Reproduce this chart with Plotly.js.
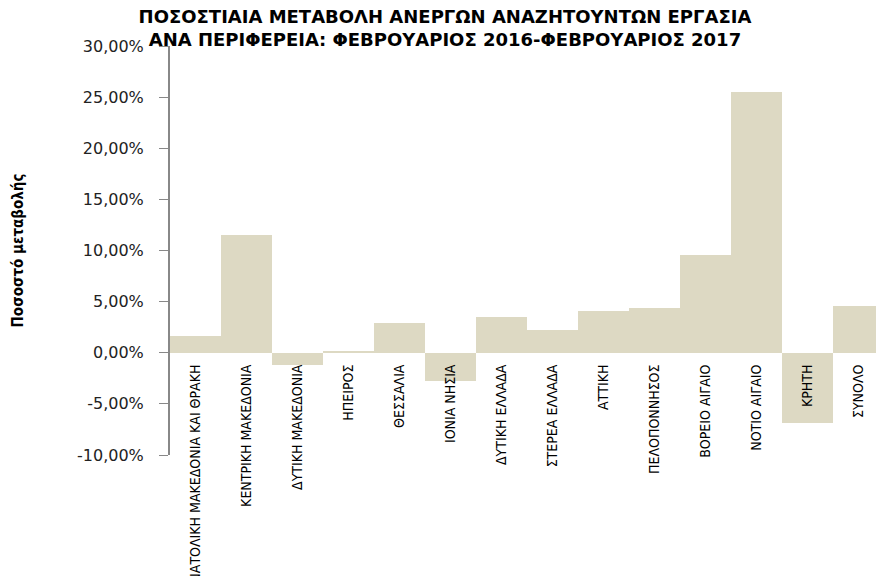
<!DOCTYPE html>
<html>
<head>
<meta charset="utf-8">
<script src="https://cdn.plot.ly/plotly-3.0.1.min.js"></script>
<style>body{margin:0;padding:0;background:#fff;}#chart{width:876px;height:576px;}</style>
</head>
<body>
<div id="chart"></div>
<script>
const regions = [
  "ΑΝΑΤΟΛΙΚΗ ΜΑΚΕΔΟΝΙΑ ΚΑΙ ΘΡΑΚΗ",
  "ΚΕΝΤΡΙΚΗ ΜΑΚΕΔΟΝΙΑ",
  "ΔΥΤΙΚΗ ΜΑΚΕΔΟΝΙΑ",
  "ΗΠΕΙΡΟΣ",
  "ΘΕΣΣΑΛΙΑ",
  "ΙΟΝΙΑ ΝΗΣΙΑ",
  "ΔΥΤΙΚΗ ΕΛΛΑΔΑ",
  "ΣΤΕΡΕΑ ΕΛΛΑΔΑ",
  "ΑΤΤΙΚΗ",
  "ΠΕΛΟΠΟΝΝΗΣΟΣ",
  "ΒΟΡΕΙΟ ΑΙΓΑΙΟ",
  "ΝΟΤΙΟ ΑΙΓΑΙΟ",
  "ΚΡΗΤΗ",
  "ΣΥΝΟΛΟ"
];
const changePct = [1.66, 11.5, -1.24, 0.15, 2.93, -2.73, 3.5, 2.18, 4.13, 4.4, 9.6, 25.5, -6.84, 4.6];
const yTickVals = [-10, -5, 0, 5, 10, 15, 20, 25, 30];
const yTickText = ["-10,00%", "-5,00%", "0,00%", "5,00%", "10,00%", "15,00%", "20,00%", "25,00%", "30,00%"];
const yMin = -10, yMax = 30;
const chartTitle = "ΠΟΣΟΣΤΙΑΙΑ ΜΕΤΑΒΟΛΗ ΑΝΕΡΓΩΝ ΑΝΑΖΗΤΟΥΝΤΩΝ ΕΡΓΑΣΙΑ<br>ΑΝΑ ΠΕΡΙΦΕΡΕΙΑ: ΦΕΒΡΟΥΑΡΙΟΣ 2016-ΦΕΒΡΟΥΑΡΙΟΣ 2017";
const yTitle = "Ποσοστό μεταβολής";

const trace = {
  type: 'bar',
  x: regions,
  y: changePct,
  marker: {color: '#ddd9c3', line: {width: 0}},
  hoverinfo: 'x+y'
};

const layout = {
  width: 876, height: 576,
  paper_bgcolor: '#ffffff', plot_bgcolor: '#ffffff',
  margin: {l: 170, r: 0, t: 46, b: 121, pad: 0},
  bargap: 0,
  showlegend: false,
  title: {
    text: chartTitle,
    font: {family: 'DejaVu Sans', size: 18, color: '#000', weight: 'bold'},
    x: 445/876, xanchor: 'center', xref: 'container',
    y: 1 - 23/576, yanchor: 'top', yref: 'container'
  },
  xaxis: {
    type: 'category',
    range: [-0.5, 13.34],
    anchor: 'free',
    position: (0 - yMin) / (yMax - yMin),
    showline: false, ticks: '', showgrid: false, zeroline: false,
    tickangle: -90,
    ticklabelstandoff: 8,
    tickfont: {family: '"DejaVu Sans Condensed", "Liberation Sans Narrow", sans-serif', size: 14, color: '#000'}
  },
  yaxis: {
    range: [yMin, yMax],
    tickmode: 'array', tickvals: yTickVals, ticktext: yTickText,
    showgrid: false, zeroline: false,
    showline: true, linecolor: '#888888', linewidth: 2,
    ticks: 'outside', ticklen: 9, tickcolor: '#888888', tickwidth: 1,
    ticklabelstandoff: 12,
    tickfont: {family: 'DejaVu Sans', size: 16, color: '#222'},
    title: {
      text: yTitle,
      font: {family: '"DejaVu Sans Condensed", "Liberation Sans Narrow", sans-serif', size: 15, color: '#000', weight: 'bold'},
      standoff: 50
    }
  }
};

Plotly.newPlot('chart', [trace], layout, {displayModeBar: false, staticPlot: true});
</script>
</body>
</html>
